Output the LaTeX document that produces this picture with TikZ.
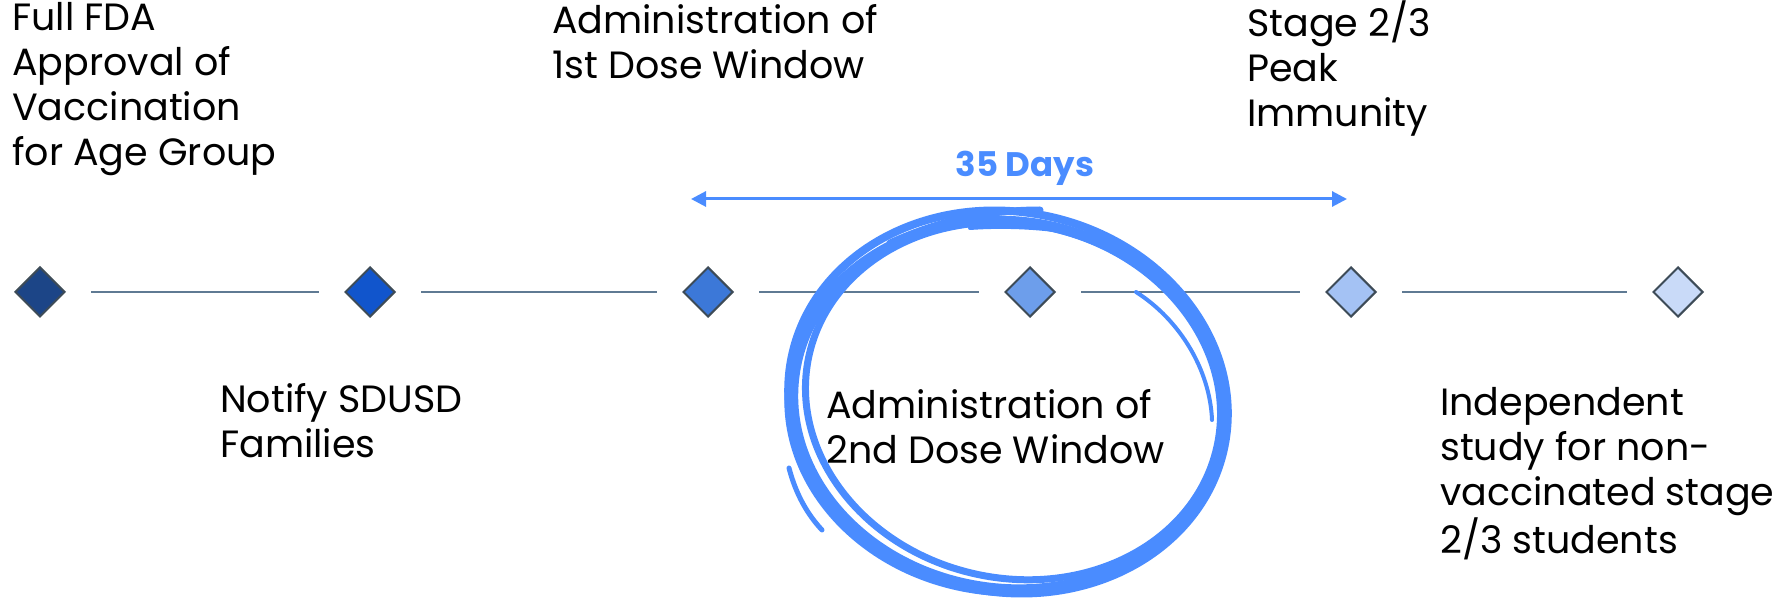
\documentclass[tikz,border=0pt]{standalone}
\usepackage{fontspec}
\setmainfont{Poppins}
\usetikzlibrary{shapes.geometric,arrows.meta}
\definecolor{col_1c4587}{RGB}{28,69,135}
\definecolor{col_1155cc}{RGB}{17,85,204}
\definecolor{col_3c78d8}{RGB}{60,120,216}
\definecolor{col_6d9eeb}{RGB}{109,158,235}
\definecolor{col_a4c2f4}{RGB}{164,194,244}
\definecolor{col_c9daf8}{RGB}{201,218,248}
\definecolor{col_3d4b57}{RGB}{61,75,87}
\definecolor{col_5f7a93}{RGB}{95,122,147}
\definecolor{col_4a8cff}{RGB}{74,140,255}
\newcommand{\tikzdrawmilestone}[3]{%
\node[milestone, fill=#1] (#2) at (#3,292) {};
}

\begin{document}
\begin{tikzpicture}[x=1pt,y=-1pt,
  milestone/.style={diamond, draw=col_3d4b57, line width=2pt, minimum width=50pt, minimum height=50pt, inner sep=0pt},
  timeline/.style={col_5f7a93, line width=2.5pt, shorten <=25pt, shorten >=25pt},
  msgtext/.style={anchor=base west, align=left, inner sep=0pt, font=\fontsize{38}{45}\selectfont},
  scribble/.style={col_4a8cff, line width=9pt, line cap=round}]
\useasboundingbox (0,0) rectangle (1777,601);
%% milestones
\tikzdrawmilestone{col_1c4587}{m1}{40}
\tikzdrawmilestone{col_1155cc}{m2}{370}
\tikzdrawmilestone{col_3c78d8}{m3}{708}
\tikzdrawmilestone{col_6d9eeb}{m4}{1030}
\tikzdrawmilestone{col_a4c2f4}{m5}{1351}
\tikzdrawmilestone{col_c9daf8}{m6}{1678}
\draw[timeline] (m1) -- (m2);
\draw[timeline] (m2) -- (m3);
\draw[timeline] (m3) -- (m4);
\draw[timeline] (m4) -- (m5);
\draw[timeline] (m5) -- (m6);
%% texts above and below (anchored at the last line)
\node[msgtext] (t1) at (12,166) {Full FDA\\Approval of\\Vaccination\\for Age Group};
\node[msgtext] (t2) at (552,79) {Administration of\\1st Dose Window};
\node[msgtext] (t3) at (1247,127) {Stage 2/3\\Peak\\Immunity};
\node[msgtext] (t4) at (220,457) {Notify SDUSD\\Families};
\node[msgtext] (t5) at (826,463) {Administration of\\2nd Dose Window};
\node[msgtext] (t6) at (1440,553) {Independent\\study for non-\\vaccinated stage\\2/3 students};
%% 35 days span
\coordinate (spanL) at (691,199);
\coordinate (spanR) at (1347,199);
\draw[col_4a8cff, line width=3pt, {Triangle[length=15pt,width=15pt]}-{Triangle[length=15pt,width=15pt]}] (spanL) -- (spanR);
\node[font=\bfseries\fontsize{34}{40}\selectfont, text=col_4a8cff, anchor=base, inner sep=0pt] (days) at (1025,177) {35 Days};
%% hand drawn circle
\draw[scribble, line width=8pt] (1008,402) ellipse[x radius=221, y radius=190, rotate=-12];
\draw[scribble] (1008,405) ellipse[x radius=215, y radius=183, rotate=-9];
\draw[scribble, line width=7pt] (1013,401) ellipse[x radius=209, y radius=177, rotate=-13];
\draw[scribble, line width=6pt] (1005,406) ellipse[x radius=218, y radius=187, rotate=-6];
\draw[scribble, line width=7pt] (890,243) .. controls (940,220) and (990,210) .. (1040,210);
\draw[scribble, line width=4pt] (1097,238) .. controls (1060,228) and (1010,225) .. (970,228);
\draw[scribble, line width=4pt] (1136,292) .. controls (1180,320) and (1210,370) .. (1212,420);
\draw[scribble, line width=5pt] (789,468) .. controls (796,495) and (808,515) .. (822,530);
\end{tikzpicture}
\end{document}
